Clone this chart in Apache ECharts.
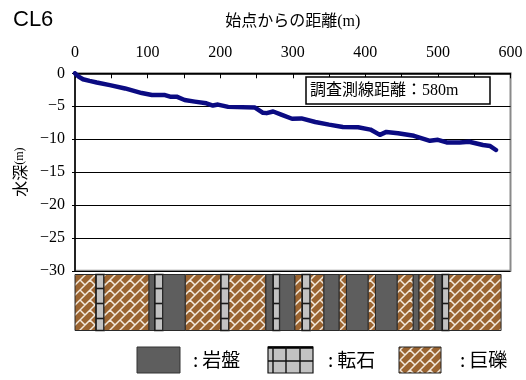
<!DOCTYPE html>
<html>
<head>
<meta charset="utf-8">
<script src="https://cdn.jsdelivr.net/npm/echarts@6/dist/echarts.min.js"></script>
<style>
html, body { margin: 0; padding: 0; background: #fff; }
#chart { width: 526px; height: 380px; }
</style>
</head>
<body>
<div id="chart"></div>
<script>
// Seabed profile along survey line CL6: distance from start (m) and water depth (m)
const distance = [0, 5, 11, 20, 30, 48, 69, 92, 106, 124, 131, 140, 151, 165, 181, 190, 197, 211, 248, 259, 264, 273, 285, 299, 312, 331, 350, 369, 390, 407, 420, 429, 445, 467, 489, 500, 512, 530, 543, 562, 572, 580];
const depth = [0, -0.5, -0.9, -1.15, -1.4, -1.8, -2.3, -3.0, -3.3, -3.3, -3.55, -3.55, -4.05, -4.3, -4.55, -4.9, -4.75, -5.1, -5.2, -6.0, -6.05, -5.8, -6.3, -6.9, -6.85, -7.4, -7.8, -8.15, -8.2, -8.55, -9.35, -8.9, -9.1, -9.5, -10.25, -10.1, -10.5, -10.5, -10.4, -10.9, -11.05, -11.65];

// Axis ticks
const distanceTicks = [0, 100, 200, 300, 400, 500, 600];
const depthTicks = [0, -5, -10, -15, -20, -25, -30];

// Bottom material strip: segment boundaries (m) and the material of each segment
const layerBounds = [0, 29, 40, 102, 110, 121, 152, 201, 212, 263, 273, 282, 303, 313, 324, 343, 364, 374, 404, 414, 444, 466, 474, 496, 506, 515, 587];
const layerTypes = ['gravel', 'cobble', 'gravel', 'rock', 'cobble', 'rock', 'gravel', 'cobble', 'gravel', 'rock', 'cobble', 'rock', 'gravel', 'cobble', 'gravel', 'rock', 'gravel', 'rock', 'gravel', 'rock', 'gravel', 'rock', 'gravel', 'rock', 'cobble', 'gravel'];
const legendNames = ['岩盤', '転石', '巨礫'];

const serif = "'Liberation Serif', 'DejaVu Serif', 'Noto Sans CJK JP', serif";
const sans = "'Noto Sans CJK JP', 'Liberation Sans', sans-serif";

const ROCK = '#5e5e5e';
const COBBLE = '#c2c2c2';

// Brown fill with a diagonal running-bond brick pattern (tile repeats every 20 px)
function makeGravelTile() {
  const T = 20, P = 10, Q = 20;
  const c = document.createElement('canvas');
  c.width = T; c.height = T;
  const g = c.getContext('2d');
  g.fillStyle = '#9a6431';
  g.fillRect(0, 0, T, T);
  g.strokeStyle = '#f3e9dc';
  g.lineWidth = 1.5;
  g.beginPath();
  for (let k = -6; k <= 10; k++) {
    const s = k * P;
    g.moveTo(s + 2 * T, -2 * T);
    g.lineTo(s - 2 * T, 2 * T);
  }
  for (let k = -6; k <= 10; k++) {
    for (let j = -4; j <= 4; j++) {
      const d = j * Q + ((k % 2 + 2) % 2 ? Q / 2 : 0);
      g.moveTo((k * P + d) / 2, (k * P - d) / 2);
      g.lineTo(((k + 1) * P + d) / 2, ((k + 1) * P - d) / 2);
    }
  }
  g.stroke();
  return c;
}
const gravelFill = { image: makeGravelTile(), repeat: 'repeat' };

function renderLayer(params, api) {
  const type = layerTypes[params.dataIndex];
  const p0 = api.coord([api.value(0), 1]);
  const p1 = api.coord([api.value(1), 0]);
  const x = p0[0], y = p0[1], w = p1[0] - p0[0], h = p1[1] - p0[1];
  if (type === 'rock') {
    return { type: 'rect', shape: { x, y, width: w, height: h }, style: { fill: ROCK, stroke: '#2a2a2a', lineWidth: 1 } };
  }
  if (type === 'gravel') {
    return { type: 'rect', shape: { x, y, width: w, height: h }, style: { fill: gravelFill, stroke: '#2a2a2a', lineWidth: 1 } };
  }
  const children = [{ type: 'rect', shape: { x, y, width: w, height: h }, style: { fill: COBBLE, stroke: '#1a1a1a', lineWidth: 1.6 } }];
  for (let k = 1; k <= 3; k++) {
    const ly = y + k * 15 - 1;
    children.push({ type: 'line', shape: { x1: x, y1: ly, x2: x + w, y2: ly }, style: { stroke: '#1a1a1a', lineWidth: 1.6 } });
  }
  return { type: 'group', children };
}

const chart = echarts.init(document.getElementById('chart'), null, { renderer: 'canvas' });

const legendY = 347, legendH = 26;
const legendText = name => ({
  text: '{c|:}{k|' + name + '}', verticalAlign: 'middle', fill: '#000',
  rich: { c: { fontSize: 19, fontFamily: sans, padding: [0, 4, 0, 0] }, k: { fontSize: 19, fontFamily: sans } }
});
const graphics = [
  { type: 'text', left: 13, top: 9, style: { text: 'CL6', font: "22px 'Liberation Sans', Arial, sans-serif", fill: '#000' } },
  // survey line length box
  { type: 'rect', shape: { x: 306, y: 77, width: 184, height: 27 }, style: { fill: '#fff', stroke: '#000', lineWidth: 1.5 }, z: 10 },
  { type: 'text', x: 310, y: 91, style: { text: '調査測線距離：580m', font: "16px " + serif, fill: '#000', verticalAlign: 'middle' }, z: 11 },
  // legend: rock
  { type: 'rect', shape: { x: 137, y: legendY, width: 43, height: legendH }, style: { fill: ROCK, stroke: '#333', lineWidth: 1 } },
  { type: 'text', x: 193, y: legendY + legendH / 2, style: legendText(legendNames[0]) },
  // legend: cobble
  { type: 'group', children: [
    { type: 'rect', shape: { x: 268, y: legendY, width: 45, height: legendH }, style: { fill: COBBLE, stroke: '#111', lineWidth: 1.2 } },
    { type: 'line', shape: { x1: 268, y1: legendY + 0.5, x2: 313, y2: legendY + 0.5 }, style: { stroke: '#000', lineWidth: 2.5 } },
    { type: 'line', shape: { x1: 273, y1: legendY, x2: 273, y2: legendY + legendH }, style: { stroke: '#111', lineWidth: 1.4 } },
    { type: 'line', shape: { x1: 286, y1: legendY, x2: 286, y2: legendY + legendH }, style: { stroke: '#111', lineWidth: 1.4 } },
    { type: 'line', shape: { x1: 300, y1: legendY, x2: 300, y2: legendY + legendH }, style: { stroke: '#111', lineWidth: 1.4 } },
    { type: 'line', shape: { x1: 268, y1: legendY + 14, x2: 313, y2: legendY + 14 }, style: { stroke: '#111', lineWidth: 1.4 } }
  ] },
  { type: 'text', x: 328, y: legendY + legendH / 2, style: legendText(legendNames[1]) },
  // legend: gravel
  { type: 'rect', shape: { x: 399, y: legendY, width: 42, height: legendH }, style: { fill: gravelFill, stroke: '#222', lineWidth: 1 } },
  { type: 'text', x: 460, y: legendY + legendH / 2, style: legendText(legendNames[2]) }
];

chart.setOption({
  animation: false,
  backgroundColor: '#fff',
  grid: [
    { left: 75, right: 15.5, top: 73.3, height: 197.5, show: true, borderColor: '#8a8a8a', borderWidth: 2, backgroundColor: 'transparent' },
    { left: 75, right: 15.5, top: 274.5, height: 56 }
  ],
  xAxis: [
    {
      type: 'value', gridIndex: 0, position: 'top',
      min: distanceTicks[0], max: distanceTicks[distanceTicks.length - 1], interval: 100,
      name: '始点からの距離(m)', nameLocation: 'middle', nameGap: 44,
      nameTextStyle: { fontFamily: serif, fontSize: 16, color: '#000' },
      axisLine: { show: true, onZero: false, lineStyle: { color: '#000', width: 1.5 } },
      axisTick: { show: true, inside: true, length: 5, lineStyle: { color: '#000', width: 1 } },
      minorTick: { show: true, splitNumber: 2, length: 5, lineStyle: { color: '#000', width: 1 } },
      axisLabel: { fontFamily: serif, fontSize: 16, color: '#000', margin: 13 },
      splitLine: { show: false }
    },
    { type: 'value', gridIndex: 1, min: 0, max: 600, show: false }
  ],
  yAxis: [
    {
      type: 'value', gridIndex: 0,
      min: depthTicks[depthTicks.length - 1], max: depthTicks[0], interval: 5,
      name: '{a|水深}{b|(m)}', nameLocation: 'middle', nameGap: 47, nameRotate: 90,
      nameTextStyle: { color: '#000', rich: { a: { fontFamily: sans, fontSize: 16 }, b: { fontFamily: serif, fontSize: 12 } } },
      axisLine: { show: true, onZero: false, lineStyle: { color: '#000', width: 1.5 } },
      axisTick: { show: true, length: 3, lineStyle: { color: '#000' } },
      axisLabel: { fontFamily: serif, fontSize: 16, color: '#000', margin: 10, formatter: v => String(v).replace('-', '\u2212') },
      splitLine: { show: true, lineStyle: { color: '#000', width: 1 } }
    },
    { type: 'value', gridIndex: 1, min: 0, max: 1, show: false }
  ],
  series: [
    {
      type: 'line', xAxisIndex: 0, yAxisIndex: 0,
      data: distance.map((d, i) => [d, depth[i]]),
      symbol: 'none', smooth: false,
      lineStyle: { color: '#0b0b82', width: 4.5, join: 'round', cap: 'round' },
      z: 5
    },
    {
      type: 'custom', xAxisIndex: 1, yAxisIndex: 1,
      data: layerTypes.map((t, i) => [layerBounds[i], layerBounds[i + 1]]),
      renderItem: renderLayer,
      clip: false
    }
  ],
  graphic: graphics
});
</script>
</body>
</html>
